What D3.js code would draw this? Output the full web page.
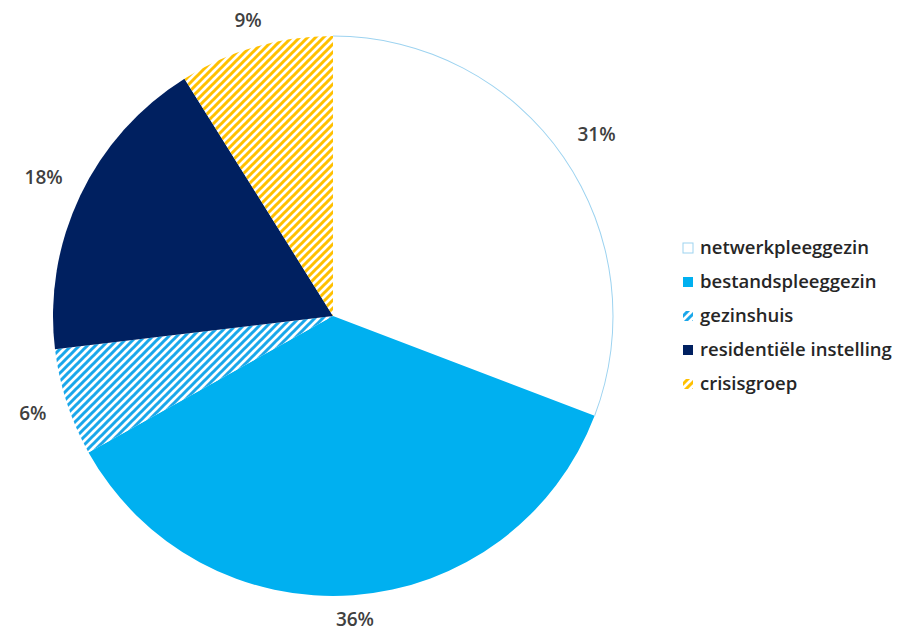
<!DOCTYPE html>
<html>
<head>
<meta charset="utf-8">
<script src="https://cdn.jsdelivr.net/npm/d3@7"></script>
<style>
  body { margin: 0; background: #fff; }
  text { font-family: "Open Sans", sans-serif; }
</style>
</head>
<body>
<div id="chart"></div>
<script>
const categories = ['netwerkpleeggezin', 'bestandspleeggezin', 'gezinshuis', 'residentiële instelling', 'crisisgroep'];
const values = [30.8, 36.1, 6.2, 18.0, 8.9];
const labels = ['31%', '36%', '6%', '18%', '9%'];

const width = 905;
const height = 631;
const cx = 333;
const cy = 316;
const radius = 280;

const svg = d3.select('#chart')
  .append('svg')
    .attr('width', width)
    .attr('height', height);

// hatch patterns
const defs = svg.append('defs');
const makeHatch = (id, color) => {
  const p = defs.append('pattern')
    .attr('id', id)
    .attr('patternUnits', 'userSpaceOnUse')
    .attr('width', 8)
    .attr('height', 8);
  p.append('rect').attr('width', 8).attr('height', 8).attr('fill', '#fff');
  p.append('path')
    .attr('d', 'M-2,2 L2,-2 M0,8 L8,0 M6,10 L10,6')
    .attr('stroke', color)
    .attr('stroke-width', 3);
};
makeHatch('hatchBlue', '#1aa7ea');
makeHatch('hatchYellow', '#ffc000');

const fills = ['#ffffff', '#00b0f0', 'url(#hatchBlue)', '#002060', 'url(#hatchYellow)'];

const pie = d3.pie().sort(null).value(d => d);
const arcs = pie(values);
const arc = d3.arc().innerRadius(0).outerRadius(radius);

const g = svg.append('g').attr('transform', `translate(${cx},${cy})`);

g.selectAll('path.slice')
  .data(arcs)
  .enter()
  .append('path')
    .attr('class', 'slice')
    .attr('d', arc)
    .attr('fill', (d, i) => fills[i])
    .attr('stroke', 'none');

// light blue outline of the white slice
g.append('path')
  .datum(arcs[0])
  .attr('d', d3.arc().innerRadius(radius - 0.5).outerRadius(radius + 0.5))
  .attr('fill', '#9dd3f0');

// labels outside the end, pushed out by their own box
const lbl = g.selectAll('text.lbl')
  .data(arcs)
  .enter()
  .append('text')
    .attr('class', 'lbl')
    .attr('text-anchor', 'middle')
    .attr('dy', '0.35em')
    .style('font-size', '19px')
    .style('font-weight', 600)
    .style('fill', '#404040')
    .text((d, i) => labels[i]);

lbl.attr('transform', function(d) {
  const a = (d.startAngle + d.endAngle) / 2;
  const b = this.getBBox();
  const dist = radius + 12 + Math.abs(Math.sin(a)) * (b.width / 2 + 8) + Math.abs(Math.cos(a)) * 10;
  return `translate(${Math.sin(a) * dist},${-Math.cos(a) * dist})`;
});

// legend
const legend = svg.append('g').attr('transform', 'translate(683,248)');
const row = legend.selectAll('g')
  .data(categories)
  .enter()
  .append('g')
    .attr('transform', (d, i) => `translate(0,${i * 34})`);

row.append('rect')
  .attr('x', 0)
  .attr('y', -5)
  .attr('width', 10)
  .attr('height', 10)
  .attr('fill', (d, i) => fills[i])
  .attr('stroke', (d, i) => i === 0 ? '#9dd3f0' : 'none');

row.append('text')
  .attr('x', 17)
  .attr('dy', '0.35em')
  .style('font-size', '18.5px')
  .style('font-weight', 600)
  .style('fill', '#262626')
  .text(d => d);
</script>
</body>
</html>
